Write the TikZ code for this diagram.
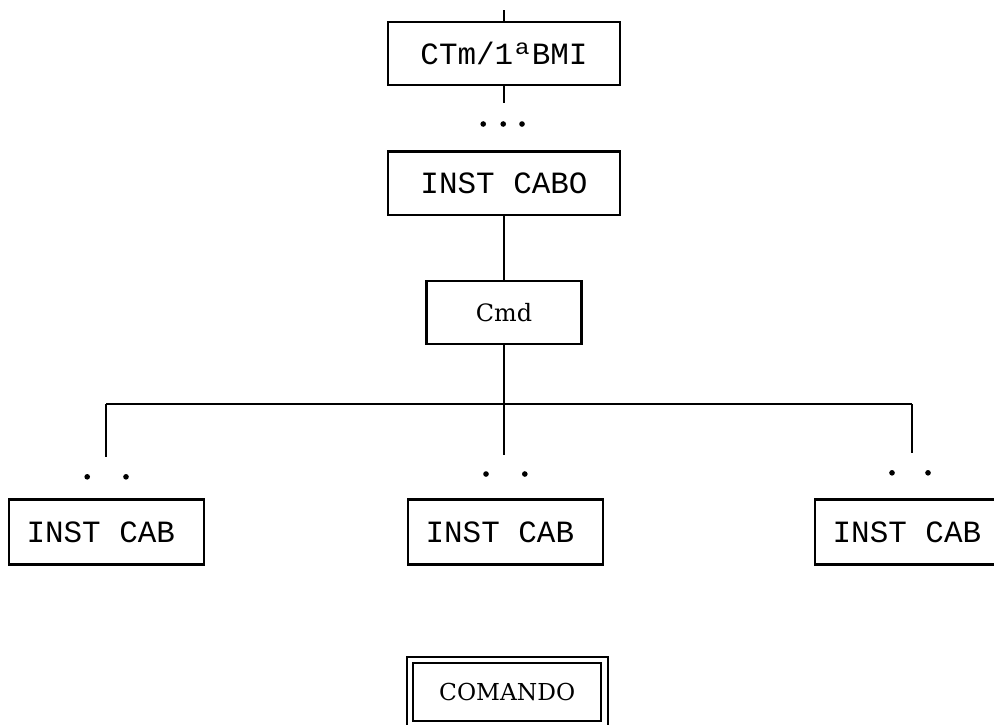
\documentclass[tikz,border=0pt]{standalone}
\usepackage{fontspec}
\setmonofont{Liberation Mono}
\newfontfamily\plaqfont{DejaVu Serif}
\usetikzlibrary{positioning}

\begin{document}
\begin{tikzpicture}[
    unit/.style={draw, line width=0.8pt, minimum width=2.9cm, minimum height=0.79cm, font=\fontsize{11}{13}\selectfont\ttfamily},
    cab/.style={draw, line width=0.8pt, minimum height=0.81cm, text width=2.0cm, inner xsep=0.22cm, align=flush left, font=\fontsize{11}{13}\selectfont\ttfamily},
    cmdbox/.style={draw, line width=0.8pt, minimum width=1.94cm, minimum height=0.79cm, font=\fontsize{8.5}{10}\selectfont\plaqfont},
    chief/.style={draw, double, line width=0.8pt, double distance=1.5pt, minimum width=2.43cm, minimum height=0.8cm, font=\fontsize{8.3}{10}\selectfont\plaqfont},
    link/.style={line width=0.8pt}
]
    \useasboundingbox (0,0) rectangle (12.425,9.05);
    \clip (0,0) rectangle (12.425,9.05);

    \node (ctm) [unit] at (6.3,8.38) {CTm/1ªBMI};
    \node (cabo) [unit, below=0.8cm of ctm] {INST CABO};
    \node (cmd) [cmdbox, below=0.8cm of cabo] {Cmd};

    \node (cabM) [cab] at (6.32,2.4) {INST CAB};
    \node (cabL) [cab, left=2.52cm of cabM] {INST CAB};
    \node (cabR) [cab, right=2.62cm of cabM] {INST CAB};

    \node (comando) [chief] at (6.34,0.4) {COMANDO};

    % free ends of the lines
    \coordinate (top) at (6.3,8.925);
    \coordinate (ctmEnd) at (6.3,7.76);
    \coordinate (bus) at (6.3,4.0);
    \coordinate (busL) at (1.325,4.0);
    \coordinate (busR) at (11.4,4.0);
    \coordinate (dropL) at (1.325,3.34);
    \coordinate (dropM) at (6.3,3.36);
    \coordinate (dropR) at (11.4,3.39);

    \draw [link] (top) -- (ctm.north);
    \draw [link] (ctm.south) -- (ctmEnd);
    \draw [link] (cabo.south) -- (cmd.north);
    \draw [link] (cmd.south) -- (bus);
    \draw [link] (busL) -- (busR);
    \draw [link] (busL) -- (dropL);
    \draw [link] (bus) -- (dropM);
    \draw [link] (busR) -- (dropR);

    % dots
    \foreach \x in {6.04,6.29,6.525}
        \fill (\x,7.5) circle (1pt);
    \foreach \x in {1.09,1.575}
        \fill (\x,3.09) circle (1pt);
    \foreach \x in {6.075,6.56}
        \fill (\x,3.125) circle (1pt);
    \foreach \x in {11.15,11.6}
        \fill (\x,3.14) circle (1pt);
\end{tikzpicture}
\end{document}
